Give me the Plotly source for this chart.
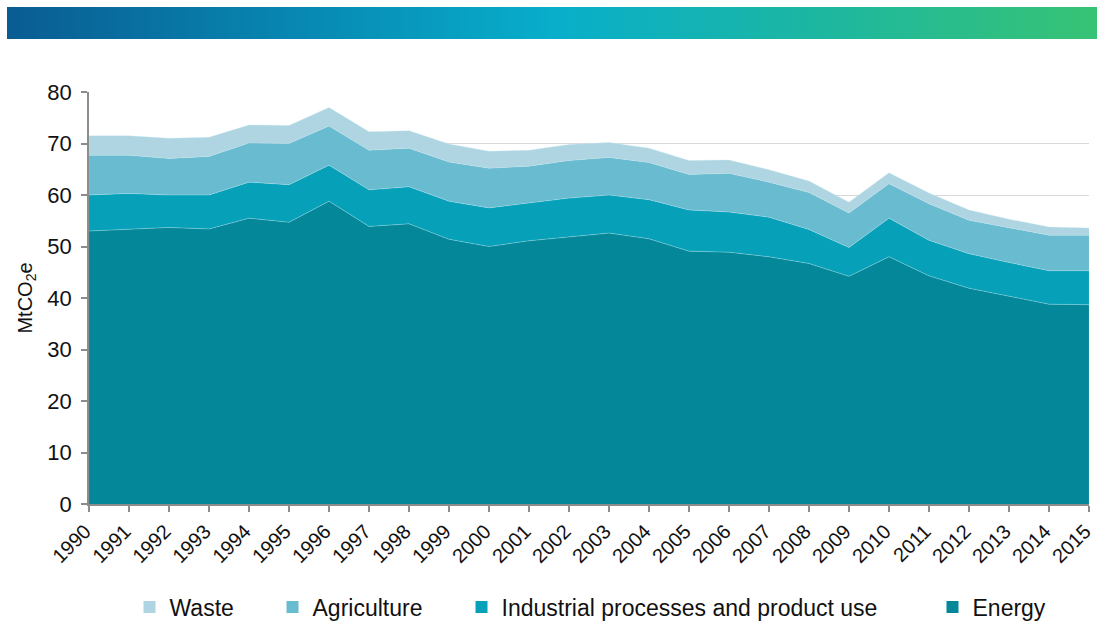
import base64
import plotly.graph_objects as go

# Greenhouse gas emissions by sector, MtCO2e
years = list(range(1990, 2016))
energy = [53.0, 53.4, 53.7, 53.4, 55.5, 54.7, 58.8, 53.9, 54.4, 51.4, 50.0, 51.1, 51.8,
          52.6, 51.5, 49.1, 48.9, 48.0, 46.7, 44.2, 48.0, 44.3, 41.9, 40.3, 38.8, 38.7]
industrial = [7.0, 6.9, 6.3, 6.6, 7.0, 7.3, 7.0, 7.1, 7.2, 7.4, 7.5, 7.4, 7.6,
              7.4, 7.6, 8.0, 7.8, 7.7, 6.6, 5.6, 7.5, 6.9, 6.7, 6.6, 6.5, 6.6]
agriculture = [7.7, 7.4, 7.1, 7.5, 7.6, 8.0, 7.6, 7.7, 7.5, 7.6, 7.7, 7.1, 7.3,
               7.3, 7.2, 6.9, 7.5, 6.8, 7.2, 6.7, 6.7, 7.1, 6.5, 6.7, 6.9, 6.9]
waste = [3.8, 3.8, 3.9, 3.7, 3.5, 3.5, 3.6, 3.6, 3.4, 3.5, 3.3, 3.1, 3.1,
         2.9, 2.8, 2.7, 2.6, 2.4, 2.2, 2.1, 2.1, 2.1, 2.0, 1.7, 1.6, 1.4]

sector_names = ["Energy", "Industrial processes and product use", "Agriculture", "Waste"]
sector_values = [energy, industrial, agriculture, waste]
sector_colors = ["#05879A", "#06A1B9", "#69BBD0", "#AED5E1"]

FONT = "Liberation Sans, Arial, sans-serif"

fig = go.Figure()

# Stacked areas, bottom to top
for name, vals, col in zip(sector_names, sector_values, sector_colors):
    fig.add_trace(go.Scatter(
        x=years, y=vals, name=name, stackgroup="one", mode="lines",
        line=dict(width=0.6, color="rgba(200,235,242,0.55)"),
        fillcolor=col, showlegend=False, hoverinfo="x+y+name",
    ))

# Legend entries with square swatches, each in its own legend box
legend_order = ["Waste", "Agriculture", "Industrial processes and product use", "Energy"]
legend_x = [0.0405, 0.1835, 0.3725, 0.8435]
legend_ids = ["legend", "legend2", "legend3", "legend4"]
for name, lid in zip(legend_order, legend_ids):
    col = sector_colors[sector_names.index(name)]
    fig.add_trace(go.Scatter(
        x=[None], y=[None], mode="markers", name=name, legend=lid,
        marker=dict(symbol="square", size=12, color=col, line=dict(width=0)),
        showlegend=True,
    ))

legend_common = dict(orientation="h", xanchor="left", y=-0.25, yanchor="middle",
                     font=dict(family=FONT, size=23, color="#111111"),
                     bgcolor="rgba(0,0,0,0)", itemwidth=30, borderwidth=0)
layout_legends = {}
for lid, lx in zip(legend_ids, legend_x):
    layout_legends[lid] = dict(x=lx, **legend_common)

# Header gradient band
svg = (
    '<svg xmlns="http://www.w3.org/2000/svg" width="1090" height="33" '
    'viewBox="0 0 1090 33" preserveAspectRatio="none">'
    '<defs><linearGradient id="g" x1="0" x2="1" y1="0" y2="0">'
    '<stop offset="0" stop-color="#0A5C92"/>'
    '<stop offset="0.25" stop-color="#0785B0"/>'
    '<stop offset="0.5" stop-color="#08AECB"/>'
    '<stop offset="0.75" stop-color="#1DB7A0"/>'
    '<stop offset="1" stop-color="#37C374"/>'
    '</linearGradient></defs>'
    '<rect width="1090" height="33" fill="url(#g)"/></svg>'
)
svg_uri = "data:image/svg+xml;base64," + base64.b64encode(svg.encode()).decode()

fig.update_layout(
    width=1097, height=621, autosize=False,
    margin=dict(l=89, r=8, t=92, b=117, autoexpand=False),
    paper_bgcolor="white", plot_bgcolor="white",
    font=dict(family=FONT, color="#111111"),
    images=[dict(source=svg_uri, xref="paper", yref="paper",
                 x=-0.082, y=(504 - 7) / 412, sizex=1.09, sizey=32 / 412,
                 xanchor="left", yanchor="top", sizing="stretch", layer="above")],
    **layout_legends,
)

fig.update_xaxes(
    range=[1989.999, 2015.001], tickmode="array", tickvals=years,
    ticktext=[str(y) for y in years], tickangle=-45,
    tickfont=dict(family=FONT, size=20, color="#111111"),
    ticklabeloverflow="allow", ticklabelshift=-4,
    showgrid=False, showline=True, linecolor="#8C8C8C", linewidth=1.5,
    ticks="outside", ticklen=6, tickcolor="#8C8C8C", tickwidth=1.5,
    zeroline=False, automargin=False,
)
fig.update_yaxes(
    range=[0, 80], tickmode="array", tickvals=list(range(0, 90, 10)),
    tickfont=dict(family=FONT, size=22, color="#111111"),
    ticklabelstandoff=5,
    showgrid=True, gridcolor="#D9D9D9", gridwidth=1.3,
    showline=True, linecolor="#8C8C8C", linewidth=1.8,
    ticks="outside", ticklen=6, tickcolor="#8C8C8C", tickwidth=1.5,
    zeroline=False, automargin=False,
    title=dict(text="MtCO<sub>2</sub>e", font=dict(family=FONT, size=20, color="#111111"),
               standoff=9),
)

fig.write_html("out.html")
